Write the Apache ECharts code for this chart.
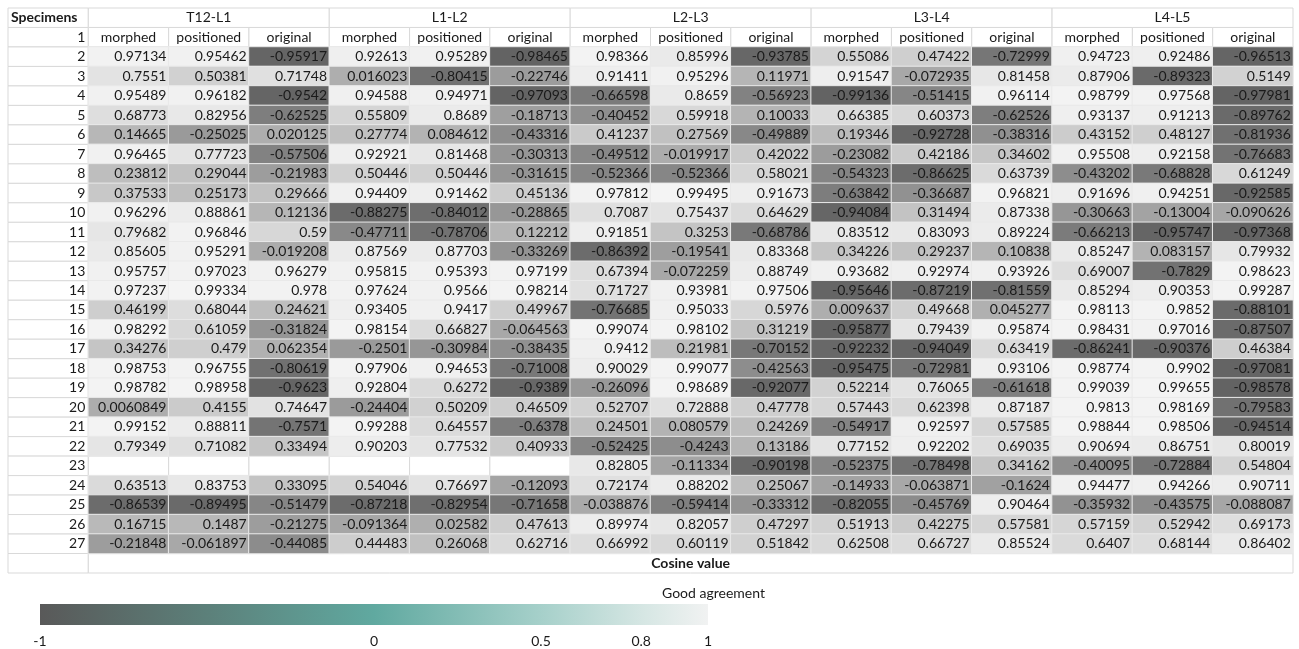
<!DOCTYPE html>
<html>
<head>
<meta charset="utf-8">
<title>Cosine value by segment</title>
<script src="https://cdn.jsdelivr.net/npm/echarts@6/dist/echarts.min.js"></script>
<style>
  html, body { margin: 0; padding: 0; background: #ffffff; }
  #chart { width: 1299px; height: 649px; }
</style>
</head>
<body>
<div id="chart"></div>
<script>
// Segment groups and the three measures reported under each
const segments = ['T12-L1', 'L1-L2', 'L2-L3', 'L3-L4', 'L4-L5'];
const measures = ['morphed', 'positioned', 'original'];
const firstRowLabel = '1';
const specimens = [2, 3, 4, 5, 6, 7, 8, 9, 10, 11, 12, 13, 14, 15, 16, 17, 18, 19, 20, 21, 22, 23, 24, 25, 26, 27];

// Cosine values per specimen: [morphed, positioned, original]
const t12l1 = [
  [0.97134, 0.95462, -0.95917], [0.7551, 0.50381, 0.71748], [0.95489, 0.96182, -0.9542],
  [0.68773, 0.82956, -0.62525], [0.14665, -0.25025, 0.020125], [0.96465, 0.77723, -0.57506],
  [0.23812, 0.29044, -0.21983], [0.37533, 0.25173, 0.29666], [0.96296, 0.88861, 0.12136],
  [0.79682, 0.96846, 0.59], [0.85605, 0.95291, -0.019208], [0.95757, 0.97023, 0.96279],
  [0.97237, 0.99334, 0.978], [0.46199, 0.68044, 0.24621], [0.98292, 0.61059, -0.31824],
  [0.34276, 0.479, 0.062354], [0.98753, 0.96755, -0.80619], [0.98782, 0.98958, -0.9623],
  [0.0060849, 0.4155, 0.74647], [0.99152, 0.88811, -0.7571], [0.79349, 0.71082, 0.33494],
  [null, null, null], [0.63513, 0.83753, 0.33095], [-0.86539, -0.89495, -0.51479],
  [0.16715, 0.1487, -0.21275], [-0.21848, -0.061897, -0.44085]
];
const l1l2 = [
  [0.92613, 0.95289, -0.98465], [0.016023, -0.80415, -0.22746], [0.94588, 0.94971, -0.97093],
  [0.55809, 0.8689, -0.18713], [0.27774, 0.084612, -0.43316], [0.92921, 0.81468, -0.30313],
  [0.50446, 0.50446, -0.31615], [0.94409, 0.91462, 0.45136], [-0.88275, -0.84012, -0.28865],
  [-0.47711, -0.78706, 0.12212], [0.87569, 0.87703, -0.33269], [0.95815, 0.95393, 0.97199],
  [0.97624, 0.9566, 0.98214], [0.93405, 0.9417, 0.49967], [0.98154, 0.66827, -0.064563],
  [-0.2501, -0.30984, -0.38435], [0.97906, 0.94653, -0.71008], [0.92804, 0.6272, -0.9389],
  [-0.24404, 0.50209, 0.46509], [0.99288, 0.64557, -0.6378], [0.90203, 0.77532, 0.40933],
  [null, null, null], [0.54046, 0.76697, -0.12093], [-0.87218, -0.82954, -0.71658],
  [-0.091364, 0.02582, 0.47613], [0.44483, 0.26068, 0.62716]
];
const l2l3 = [
  [0.98366, 0.85996, -0.93785], [0.91411, 0.95296, 0.11971], [-0.66598, 0.8659, -0.56923],
  [-0.40452, 0.59918, 0.10033], [0.41237, 0.27569, -0.49889], [-0.49512, -0.019917, 0.42022],
  [-0.52366, -0.52366, 0.58021], [0.97812, 0.99495, 0.91673], [0.7087, 0.75437, 0.64629],
  [0.91851, 0.3253, -0.68786], [-0.86392, -0.19541, 0.83368], [0.67394, -0.072259, 0.88749],
  [0.71727, 0.93981, 0.97506], [-0.76685, 0.95033, 0.5976], [0.99074, 0.98102, 0.31219],
  [0.9412, 0.21981, -0.70152], [0.90029, 0.99077, -0.42563], [-0.26096, 0.98689, -0.92077],
  [0.52707, 0.72888, 0.47778], [0.24501, 0.080579, 0.24269], [-0.52425, -0.4243, 0.13186],
  [0.82805, -0.11334, -0.90198], [0.72174, 0.88202, 0.25067], [-0.038876, -0.59414, -0.33312],
  [0.89974, 0.82057, 0.47297], [0.66992, 0.60119, 0.51842]
];
const l3l4 = [
  [0.55086, 0.47422, -0.72999], [0.91547, -0.072935, 0.81458], [-0.99136, -0.51415, 0.96114],
  [0.66385, 0.60373, -0.62526], [0.19346, -0.92728, -0.38316], [-0.23082, 0.42186, 0.34602],
  [-0.54323, -0.86625, 0.63739], [-0.63842, -0.36687, 0.96821], [-0.94084, 0.31494, 0.87338],
  [0.83512, 0.83093, 0.89224], [0.34226, 0.29237, 0.10838], [0.93682, 0.92974, 0.93926],
  [-0.95646, -0.87219, -0.81559], [0.009637, 0.49668, 0.045277], [-0.95877, 0.79439, 0.95874],
  [-0.92232, -0.94049, 0.63419], [-0.95475, -0.72981, 0.93106], [0.52214, 0.76065, -0.61618],
  [0.57443, 0.62398, 0.87187], [-0.54917, 0.92597, 0.57585], [0.77152, 0.92202, 0.69035],
  [-0.52375, -0.78498, 0.34162], [-0.14933, -0.063871, -0.1624], [-0.82055, -0.45769, 0.90464],
  [0.51913, 0.42275, 0.57581], [0.62508, 0.66727, 0.85524]
];
const l4l5 = [
  [0.94723, 0.92486, -0.96513], [0.87906, -0.89323, 0.5149], [0.98799, 0.97568, -0.97981],
  [0.93137, 0.91213, -0.89762], [0.43152, 0.48127, -0.81936], [0.95508, 0.92158, -0.76683],
  [-0.43202, -0.68828, 0.61249], [0.91696, 0.94251, -0.92585], [-0.30663, -0.13004, -0.090626],
  [-0.66213, -0.95747, -0.97368], [0.85247, 0.083157, 0.79932], [0.69007, -0.7829, 0.98623],
  [0.85294, 0.90353, 0.99287], [0.98113, 0.9852, -0.88101], [0.98431, 0.97016, -0.87507],
  [-0.86241, -0.90376, 0.46384], [0.98774, 0.9902, -0.97081], [0.99039, 0.99655, -0.98578],
  [0.9813, 0.98169, -0.79583], [0.98844, 0.98506, -0.94514], [0.90694, 0.86751, 0.80019],
  [-0.40095, -0.72884, 0.54804], [0.94477, 0.94266, 0.90711], [-0.35932, -0.43575, -0.088087],
  [0.57159, 0.52942, 0.69173], [0.6407, 0.68144, 0.86402]
];
const segmentValues = [t12l1, l1l2, l2l3, l3l4, l4l5];

// Colour bar ticks
const scaleTicks = [-1, 0, 0.5, 0.8, 1];
const scaleTitle = 'Good agreement';
const footerLabel = 'Cosine value';
const cornerLabel = 'Specimens';

const FONT = 'Lato, "Open Sans", sans-serif';
const TEXT = '#1a1a1a';
const RULE = '#d9d9d9';
const CELL_FONT_SIZE = 14;

// Table layout: column 0 = specimen ids, then 15 value columns;
// row 0 = segment header, row 1 = measure header, rows 2..27 = specimens, last = footer
const xCats = ['id'];
segments.forEach(s => measures.forEach(m => xCats.push(s + ' ' + m)));
const yCats = ['segment', firstRowLabel].concat(specimens.map(String), ['footer']);
const footerRow = yCats.length - 1;

const heatData = [];
const frameCells = []; // [colStart, colEnd, row, text, align, bold]

frameCells.push([0, 0, 0, cornerLabel, 'left', true]);
frameCells.push([0, 0, 1, firstRowLabel, 'right', false]);
segments.forEach((s, si) => {
  frameCells.push([1 + si * 3, 3 + si * 3, 0, s, 'center', false]);
  measures.forEach((m, mi) => frameCells.push([1 + si * 3 + mi, 1 + si * 3 + mi, 1, m, 'center', false]));
});
specimens.forEach((sp, i) => {
  const row = i + 2;
  frameCells.push([0, 0, row, String(sp), 'right', false]);
  segmentValues.forEach((seg, si) => {
    seg[i].forEach((v, mi) => {
      const col = 1 + si * 3 + mi;
      if (v === null) frameCells.push([col, col, row, '', 'center', false]);
      else heatData.push([col, row, v]);
    });
  });
});
frameCells.push([0, 0, footerRow, '', 'center', false]);
frameCells.push([1, xCats.length - 1, footerRow, footerLabel, 'center', true]);

function drawFrameCell(params, api) {
  const c = frameCells[params.dataIndex];
  const a = api.coord([api.value(0), api.value(2)]);
  const b = api.coord([api.value(1), api.value(2)]);
  const band = api.size([1, 1]);
  const x = a[0] - band[0] / 2;
  const w = b[0] - a[0] + band[0];
  const y = a[1] - band[1] / 2;
  const h = band[1];
  const tx = c[4] === 'left' ? x + 3 : (c[4] === 'right' ? x + w - 3 : x + w / 2);
  return {
    type: 'group',
    children: [
      { type: 'rect', shape: { x: x, y: y, width: w, height: h },
        style: { fill: '#ffffff', stroke: RULE, lineWidth: 1 } },
      { type: 'text',
        style: { text: c[3], x: tx, y: y + h / 2, textAlign: c[4], textVerticalAlign: 'middle',
                 font: (c[5] ? 'bold ' : '') + CELL_FONT_SIZE + 'px ' + FONT, fill: TEXT } }
    ]
  };
}

function drawScaleBar(params, api) {
  const a = api.coord([api.value(0), api.value(2)]);
  const b = api.coord([api.value(1), api.value(2)]);
  const h = api.size([0, 1])[1];
  return {
    type: 'rect',
    shape: { x: a[0], y: a[1] - h / 2, width: b[0] - a[0], height: h },
    style: {
      fill: new echarts.graphic.LinearGradient(0, 0, 1, 0, [
        { offset: 0, color: '#595959' },
        { offset: 0.25, color: '#5c807a' },
        { offset: 0.5, color: '#60a9a0' },
        { offset: 0.75, color: '#a6d0ca' },
        { offset: 0.9, color: '#d5e6e3' },
        { offset: 1, color: '#f1f2f2' }
      ])
    }
  };
}

const chart = echarts.init(document.getElementById('chart'), null, { renderer: 'canvas' });
chart.setOption({
  animation: false,
  backgroundColor: '#ffffff',
  title: {
    text: scaleTitle, left: 657, top: 581,
    textStyle: { fontFamily: FONT, fontSize: 14, fontWeight: 'normal', color: TEXT }
  },
  grid: [
    { left: 8, right: 6, top: 8, bottom: 76 },
    { left: 40, width: 668, top: 604, height: 21 }
  ],
  xAxis: [
    { type: 'category', data: xCats, gridIndex: 0, show: false },
    { type: 'value', gridIndex: 1, min: -1, max: 1,
      axisLine: { show: false }, axisTick: { show: false }, splitLine: { show: false },
      axisLabel: { customValues: scaleTicks, margin: 9, fontFamily: FONT, fontSize: 14, color: TEXT } }
  ],
  yAxis: [
    { type: 'category', data: yCats, gridIndex: 0, inverse: true, show: false },
    { type: 'category', data: ['scale'], gridIndex: 1, show: false }
  ],
  visualMap: {
    type: 'continuous', show: false, min: -1, max: 1, seriesIndex: 1,
    inRange: { color: ['#626262', '#adadad', '#f4f4f4'] }
  },
  series: [
    {
      type: 'custom', xAxisIndex: 0, yAxisIndex: 0,
      renderItem: drawFrameCell,
      encode: { x: [0, 1], y: 2 },
      data: frameCells.map(c => [c[0], c[1], c[2]]),
      silent: true, z: 1
    },
    {
      type: 'heatmap', xAxisIndex: 0, yAxisIndex: 0,
      data: heatData,
      itemStyle: { borderColor: '#e9e9e9', borderWidth: 1 },
      label: {
        show: true, position: 'insideRight', distance: 3,
        fontFamily: FONT, fontSize: CELL_FONT_SIZE, color: TEXT,
        formatter: p => String(p.value[2])
      },
      emphasis: { disabled: true },
      silent: true, z: 2
    },
    {
      type: 'custom', xAxisIndex: 1, yAxisIndex: 1,
      renderItem: drawScaleBar,
      encode: { x: [0, 1], y: 2 },
      data: [[scaleTicks[0], scaleTicks[scaleTicks.length - 1], 0]],
      silent: true
    }
  ]
});
</script>
</body>
</html>
